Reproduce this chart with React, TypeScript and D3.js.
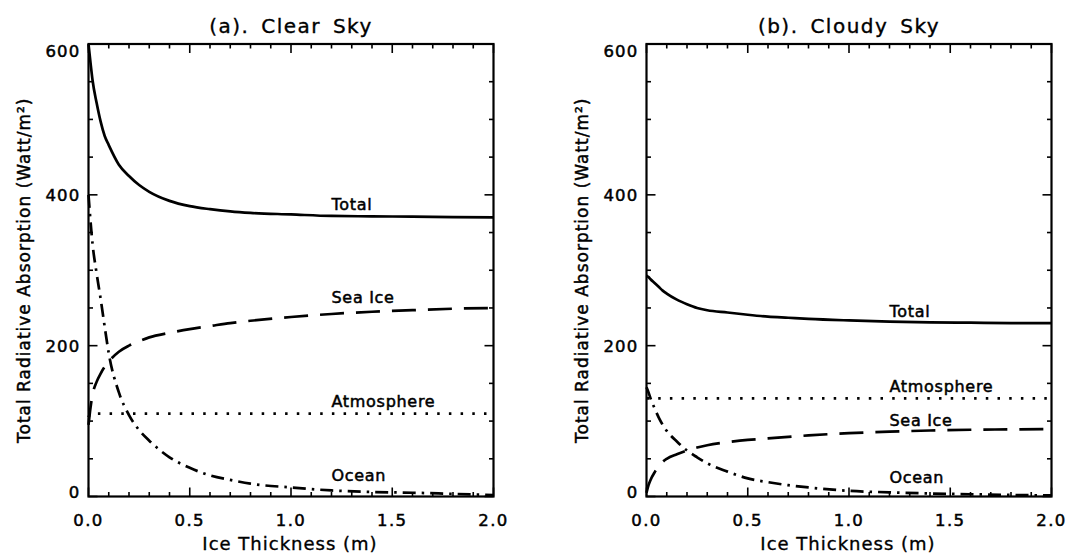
import React from "react";
import * as d3 from "d3";

// ice thickness (m) sample points
const thickness = [0, 0.01, 0.02, 0.04, 0.06, 0.08, 0.1, 0.15, 0.2, 0.25, 0.3, 0.4, 0.5, 0.6, 0.7, 0.8, 1.0, 1.2, 1.4, 1.6, 1.8, 2.0];

// (a) clear sky, W/m2
const totalClear = [600, 575, 552, 522, 497, 478, 466, 440, 425, 413, 404, 392, 385, 381, 378, 376, 374, 372, 371.5, 371, 370.5, 370];
const seaIceClear = [95, 118, 135, 152, 163, 172, 179, 192, 200, 206, 211, 217, 222, 226, 230, 233, 238, 242, 245, 247, 249, 250];
const atmosClear = [105, 110, 110, 110, 110, 110, 110, 110, 110, 110, 110, 110, 110, 110, 110, 110, 110, 110, 110, 110, 110, 110];
const oceanClear = [400, 365, 335, 296, 262, 225, 190, 138, 108, 88, 74, 52, 38, 28, 22, 17, 12, 8, 6, 5, 3.5, 2];

// (b) cloudy sky, W/m2
const totalCloudy = [293, 291, 288, 283, 278, 273, 269, 261, 255, 250, 247, 244, 241, 238.5, 237, 235.5, 233.5, 232, 231, 230.5, 230, 230];
const seaIceCloudy = [5, 15, 22, 32, 40, 46, 50, 56, 61, 65, 68, 72, 75, 77, 79, 81, 84, 86, 87.5, 88.5, 89, 89.5];
const atmosCloudy = [130, 130, 130, 130, 130, 130, 130, 130, 130, 130, 130, 130, 130, 130, 130, 130, 130, 130, 130, 130, 130, 130];
const oceanCloudy = [145, 138, 130, 117, 105, 95, 87, 73, 61, 52, 44, 33, 24, 19, 15, 12, 7.5, 5.5, 4, 3, 2, 1.5];

const seriesNames = ["Total", "Sea Ice", "Atmosphere", "Ocean"];
// where the curve labels sit (value axis), per panel
const labelValsClear = [380, 257, 119, 21];
const labelValsCloudy = [238, 94, 139, 18];
const labelAtX = 1.2;

const xTicks = [0, 0.5, 1.0, 1.5, 2.0];
const yTicks = [0, 200, 400, 600];

const FONT = "DejaVu Sans";
const dashes = ["none", "24 12", "2.5 9.2", "13 6 2.5 6"];

const W = 1069;
const H = 553;

type PanelProps = {
    left: number;
    title: string;
    series: number[][];
    labelVals: number[];
};

const Panel = ({ left, title, series, labelVals }: PanelProps) => {
    const width = 405;
    const top = 44;
    const bottom = 496.5;

    const x = d3.scaleLinear().domain([0, 2]).range([left, left + width]);
    const y = d3.scaleLinear().domain([0, 600]).range([bottom, top]);

    const line = d3
        .line<number>()
        .x((d, i) => x(thickness[i]))
        .y(d => y(d))
        .curve(d3.curveMonotoneX);

    const xMinor = d3.range(0, 2.0001, 0.1);
    const yMinor = d3.range(0, 600.1, 50);
    const isMajorX = (v: number) => Math.abs(v * 2 - Math.round(v * 2)) < 1e-6;
    const isMajorY = (v: number) => v % 200 === 0;

    const cx = left + width / 2;

    return (
        <g>
            <text x={cx} y={33} textAnchor="middle" fontSize={20} letterSpacing={1.5} wordSpacing={4} fontFamily={FONT} stroke="#000" strokeWidth={0.35}>
                {title}
            </text>

            {/* curves */}
            {series.map((vals, k) => (
                <path
                    key={k}
                    d={line(vals) || ""}
                    fill="none"
                    stroke="#000"
                    strokeWidth={2.7}
                    strokeDasharray={dashes[k]}
                />
            ))}

            {/* curve labels */}
            {seriesNames.map((name, k) => (
                <text
                    key={name}
                    x={x(labelAtX)}
                    y={y(labelVals[k])}
                    fontSize={16}
                    letterSpacing={0.7}
                    fontFamily={FONT}
                    stroke="#000"
                    strokeWidth={0.5}
                >
                    {name}
                </text>
            ))}

            {/* ticks on all four sides, pointing in */}
            {xMinor.map(v => {
                const len = isMajorX(v) ? 9 : 4.5;
                return (
                    <g key={"x" + v}>
                        <line x1={x(v)} x2={x(v)} y1={bottom} y2={bottom - len} stroke="#000" strokeWidth={1.6} />
                        <line x1={x(v)} x2={x(v)} y1={top} y2={top + len} stroke="#000" strokeWidth={1.6} />
                    </g>
                );
            })}
            {yMinor.map(v => {
                const len = isMajorY(v) ? 9 : 4.5;
                return (
                    <g key={"y" + v}>
                        <line x1={left} x2={left + len} y1={y(v)} y2={y(v)} stroke="#000" strokeWidth={1.6} />
                        <line x1={left + width} x2={left + width - len} y1={y(v)} y2={y(v)} stroke="#000" strokeWidth={1.6} />
                    </g>
                );
            })}

            <rect x={left} y={top} width={width} height={bottom - top} fill="none" stroke="#000" strokeWidth={2.2} />

            {/* tick labels */}
            {xTicks.map(v => (
                <text key={v} x={x(v)} y={526} textAnchor="middle" fontSize={16.5} letterSpacing={1.4} fontFamily={FONT} stroke="#000" strokeWidth={0.5}>
                    {v.toFixed(1)}
                </text>
            ))}
            {yTicks.map(v => (
                <text
                    key={v}
                    x={left - 8}
                    y={Math.min(Math.max(y(v), top + 7), bottom - 4)}
                    dy="0.36em"
                    textAnchor="end"
                    fontSize={16.5}
                    letterSpacing={1.2}
                    fontFamily={FONT}
                    stroke="#000"
                    strokeWidth={0.5}
                >
                    {v}
                </text>
            ))}

            {/* axis titles */}
            <text x={cx - 1} y={550} textAnchor="middle" fontSize={18} letterSpacing={1} fontFamily={FONT} stroke="#000" strokeWidth={0.35}>
                Ice Thickness (m)
            </text>
            <text
                transform={`translate(${left - 59},${(top + bottom) / 2}) rotate(-90)`}
                textAnchor="middle"
                fontSize={17}
                letterSpacing={1}
                fontFamily={FONT}
                stroke="#000"
                strokeWidth={0.45}
            >
                Total Radiative Absorption (Watt/m²)
            </text>
        </g>
    );
};

export default function App() {
    return (
        <svg width={W} height={H} style={{ position: "absolute", left: 0, top: 0, background: "#fff" }}>
            <rect width={W} height={H} fill="#fff" />
            <Panel
                left={88.5}
                title="(a). Clear Sky"
                series={[totalClear, seaIceClear, atmosClear, oceanClear]}
                labelVals={labelValsClear}
            />
            <Panel
                left={646.5}
                title="(b). Cloudy Sky"
                series={[totalCloudy, seaIceCloudy, atmosCloudy, oceanCloudy]}
                labelVals={labelValsCloudy}
            />
        </svg>
    );
}
